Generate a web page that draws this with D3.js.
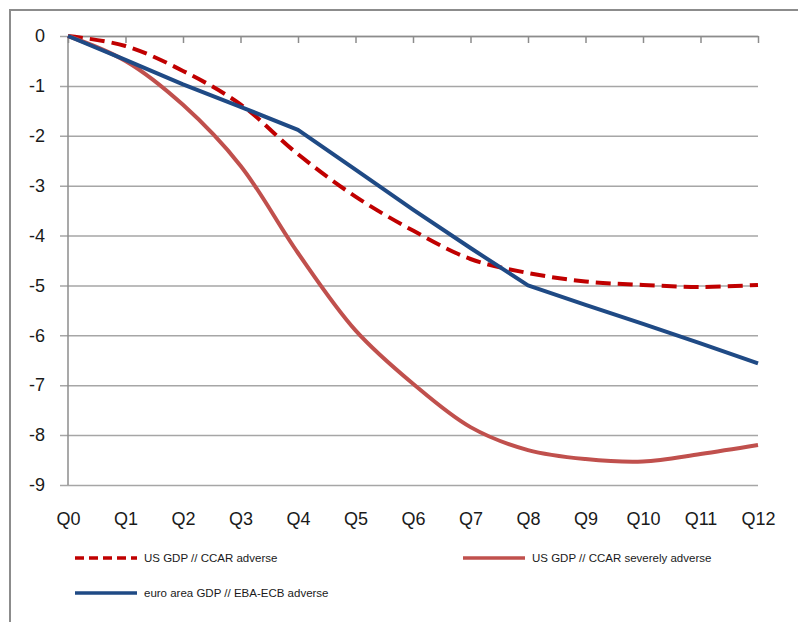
<!DOCTYPE html>
<html>
<head>
<meta charset="utf-8">
<script src="https://cdn.jsdelivr.net/npm/d3@7"></script>
<style>
  body { margin: 0; background: #fff; }
  text { font-family: "Liberation Sans", Arial, sans-serif; fill: #1a1a1a; }
</style>
</head>
<body>
<svg id="chart" width="798" height="622"></svg>
<script>
const quarters = ['Q0', 'Q1', 'Q2', 'Q3', 'Q4', 'Q5', 'Q6', 'Q7', 'Q8', 'Q9', 'Q10', 'Q11', 'Q12']
const yTicks = [0, -1, -2, -3, -4, -5, -6, -7, -8, -9]

// GDP deviation per quarter
const usAdverse = [0, -0.2, -0.7, -1.37, -2.37, -3.22, -3.9, -4.47, -4.75, -4.92, -4.99, -5.03, -4.99]
const usSevere = [0, -0.5, -1.38, -2.6, -4.35, -5.9, -6.97, -7.84, -8.3, -8.48, -8.53, -8.38, -8.2]
const euroAdverse = [0, -0.48, -0.97, -1.42, -1.88, -2.68, -3.48, -4.25, -5.0, -5.39, -5.77, -6.16, -6.56]

const seriesNames = ['US GDP // CCAR adverse', 'US GDP // CCAR severely adverse', 'euro area GDP // EBA-ECB adverse']

const width = 798
const height = 622

const svg = d3.select('#chart')

const margin = {
  top: 36,
  bottom: 137,
  left: 68,
  right: 40
}
const innerWidth = width - margin.left - margin.right
const innerHeight = height - margin.top - margin.bottom

const series = [
  { name: seriesNames[0], values: usAdverse, color: '#c00000', dash: '15,7', curve: d3.curveCatmullRom },
  { name: seriesNames[1], values: usSevere, color: '#c0504d', dash: null, curve: d3.curveCatmullRom },
  { name: seriesNames[2], values: euroAdverse, color: '#1f4a85', dash: null, curve: d3.curveLinear }
]

// outer frame (cut off on the right and bottom like the screenshot)
svg.append('path')
  .attr('d', `M10,${height} V10 H${width}`)
  .attr('fill', 'none')
  .attr('stroke', '#8c8c8c')
  .attr('stroke-width', 2)

const g = svg.append('g')
  .attr('transform', `translate(${margin.left},${margin.top})`)

const xScale = d3.scalePoint()
  .domain(quarters)
  .range([0, innerWidth])

const yScale = d3.scaleLinear()
  .domain([-9, 0])
  .range([innerHeight, 0])

// gridlines + y labels
const yAxis = d3.axisLeft(yScale)
  .tickValues(yTicks)
  .tickFormat(d => d === 0 ? '0' : '-' + Math.abs(d))
  .tickSize(-(innerWidth + 8))
  .tickPadding(15)

const yAxisG = g.append('g')
  .attr('transform', 'translate(-8,0)')
  .call(yAxis)

yAxisG.select('.domain').remove()
yAxisG.selectAll('.tick line')
  .attr('stroke', '#a6a6a6')
  .attr('stroke-width', 1.5)
yAxisG.selectAll('.tick text')
  .style('font-size', '18px')

// vertical axis line
g.append('line')
  .attr('x1', 0)
  .attr('x2', 0)
  .attr('y1', yScale(0))
  .attr('y2', yScale(-9))
  .attr('stroke', '#8c8c8c')
  .attr('stroke-width', 1.5)

// horizontal axis sits at zero, ticks hang down
const xAxis = d3.axisBottom(xScale)
  .tickSizeInner(7)
  .tickSizeOuter(0)

const xAxisG = g.append('g')
  .attr('transform', `translate(0,${yScale(0)})`)
  .call(xAxis)

xAxisG.selectAll('.tick text').remove()
xAxisG.selectAll('path, line')
  .attr('stroke', '#8c8c8c')
  .attr('stroke-width', 1.5)

// category labels under the plot
const xLabelG = g.append('g')
  .attr('transform', `translate(0,${innerHeight})`)
  .call(d3.axisBottom(xScale).tickSize(0).tickPadding(27))

xLabelG.select('.domain').remove()
xLabelG.selectAll('.tick text')
  .style('font-size', '18px')

const line = curve => d3.line()
  .x((d, i) => xScale(quarters[i]))
  .y(d => yScale(d))
  .curve(curve)

g.selectAll('.series')
  .data(series)
  .enter().append('path')
  .attr('class', 'series')
  .attr('d', d => line(d.curve)(d.values))
  .attr('fill', 'none')
  .attr('stroke', d => d.color)
  .attr('stroke-width', 4)
  .attr('stroke-dasharray', d => d.dash)
  .attr('stroke-linejoin', 'round')

// legend
const legendPos = [[75, 558], [463, 558], [75, 593]]

const legendG = svg.append('g')

const item = legendG.selectAll('g')
  .data(series)
  .enter().append('g')
  .attr('transform', (d, i) => `translate(${legendPos[i][0]},${legendPos[i][1]})`)

item.append('line')
  .attr('x1', 0)
  .attr('x2', 62)
  .attr('stroke', d => d.color)
  .attr('stroke-width', 3.5)
  .attr('stroke-dasharray', d => d.dash ? '9,5' : null)

item.append('text')
  .attr('x', 69)
  .attr('dy', '0.35em')
  .style('font-size', '11.5px')
  .text(d => d.name)
</script>
</body>
</html>
